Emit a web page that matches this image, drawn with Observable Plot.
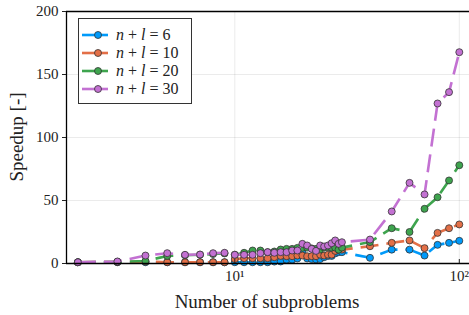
<!DOCTYPE html>
<html>
<head>
<meta charset="utf-8">
<script src="https://cdn.jsdelivr.net/npm/d3@7"></script>
<script src="https://cdn.jsdelivr.net/npm/@observablehq/plot@0.6"></script>
<style>
  html, body { margin: 0; padding: 0; background: #fff; }
  #wrap { position: relative; width: 469px; height: 315px; overflow: hidden; font-family: "Liberation Serif", "DejaVu Serif", serif; }
  #legend { position: absolute; left: 78px; top: 18px; width: 112px; height: 84px; border: 1.2px solid #333; background: #fff; }
  .row { position: absolute; left: 0; height: 18px; display: flex; align-items: center; font-size: 16px; color: #222; font-family: "Liberation Serif", "DejaVu Serif", serif; }
  .row svg { margin-left: 3px; margin-right: 8px; }
  .row i { font-style: italic; }
  #chart svg text { font-family: "Liberation Serif", "DejaVu Serif", serif !important; }
</style>
</head>
<body>
<div id="wrap"><div id="chart"></div><div id="legend"></div></div>
<script>
const subproblems = [2,3,4,5,6,7,8,9,10,11,12,13,14,15,16,17,18,19,20,21,22,23,24,25,26,27,28,29,30,40,50,60,70,80,90,100];
const speedup6  = [1,1,1,1,1,1,1,1,1,1,1,1,1,1.5,1.6,3,3,4,9,4,3.5,3.2,3.5,5,6,6,8,9,9,4.5,11,11,6.3,14.8,16.4,18];
const speedup10 = [1,1.2,1.5,1,1,1,1,1,3.5,4.2,4.2,4.2,4.2,5,6,5.8,5.8,6.3,6.3,5.8,5.8,5.8,7,6.3,7,7,10,11,11,13.7,16.4,18.3,12.2,24.3,28,31];
const speedup20 = [1,1.3,2,6,6.5,7,7.5,8,7,8.5,10.3,10.3,9,9.5,11.1,11.6,11.6,12.4,12.4,12.6,12,11.6,11.1,12.6,13,12.6,12.6,11,12.6,17,28,25,43.4,52.6,65.9,78];
const speedup30 = [1,1.6,6.3,8.2,6.9,7.1,8.2,8.5,6.9,6.9,6.9,8.2,9,8.5,9,9,10.3,10.3,15.6,14.3,11.6,10,14.3,13.5,14.3,16.1,18.3,15.6,16.9,19,41.3,64,54.8,127,136,167.7];
const seriesNames = ["6", "10", "20", "30"];
const seriesColors = ["#009AFA", "#E36F47", "#3EA44E", "#C371D2"];
const yTicks = [0, 50, 100, 150, 200];
const xTicks = [10, 100];
const xTickLabels = ["10¹", "10²"];

const allSeries = [speedup6, speedup10, speedup20, speedup30];
const xDomain = [Math.pow(10, 0.2503), Math.pow(10, 2.0454)];
const FONT = '"Liberation Serif", "DejaVu Serif", serif';

const marks = [
  Plot.gridX(xTicks, {stroke: "#000", strokeOpacity: 0.08, strokeWidth: 1}),
  Plot.gridY(yTicks.slice(1, -1), {stroke: "#000", strokeOpacity: 0.08, strokeWidth: 1}),
];
allSeries.forEach((vals, i) => {
  const data = subproblems.map((x, j) => ({x, y: vals[j]}));
  marks.push(Plot.line(data, {x: "x", y: "y", stroke: seriesColors[i], strokeWidth: 2.6, strokeDasharray: "18,8", strokeLinecap: "butt"}));
  marks.push(Plot.dot(data, {x: "x", y: "y", fill: seriesColors[i], r: 3.5, stroke: "#333", strokeWidth: 0.8}));
});
marks.push(
  Plot.ruleY([0], {stroke: "#000", strokeWidth: 1.3}),
  Plot.ruleY([200], {stroke: "#000", strokeWidth: 1.3}),
  Plot.ruleX([xDomain[0]], {stroke: "#000", strokeWidth: 1.3}),
  Plot.axisY({ticks: yTicks, tickSize: 4, tickPadding: 4, label: null, fontSize: 15}),
  Plot.axisX({ticks: xTicks, tickFormat: (d) => xTickLabels[xTicks.indexOf(d)], tickSize: -4, tickPadding: 11, label: null, fontSize: 15})
);

const chart = Plot.plot({
  width: 469,
  height: 315,
  marginLeft: 66,
  marginRight: 0,
  marginTop: 11,
  marginBottom: 52,
  style: {fontFamily: FONT, fontSize: "15px", color: "#222", background: "#fff"},
  x: {type: "log", domain: xDomain},
  y: {domain: [0, 200]},
  marks
});
document.getElementById("chart").appendChild(chart);

const svg = d3.select(chart);
svg.append("text").attr("x", 267).attr("y", 308).attr("text-anchor", "middle")
  .attr("font-size", 19).attr("font-family", FONT).attr("fill", "#222").text("Number of subproblems");
svg.append("text").attr("transform", "translate(23,137) rotate(-90)").attr("text-anchor", "middle")
  .attr("font-size", 19).attr("font-family", FONT).attr("fill", "#222").text("Speedup [-]");

const legend = document.getElementById("legend");
seriesNames.forEach((name, i) => {
  const row = document.createElement("div");
  row.className = "row";
  row.style.top = (7 + i * 18) + "px";
  row.innerHTML = `<svg width="26" height="10"><line x1="0" y1="5" x2="26" y2="5" stroke="${seriesColors[i]}" stroke-width="2.6"/><circle cx="16" cy="5" r="3.5" fill="${seriesColors[i]}" stroke="#333" stroke-width="0.8"/></svg><span><i>n</i> + <i>l</i> = ${name}</span>`;
  legend.appendChild(row);
});
</script>
</body>
</html>
